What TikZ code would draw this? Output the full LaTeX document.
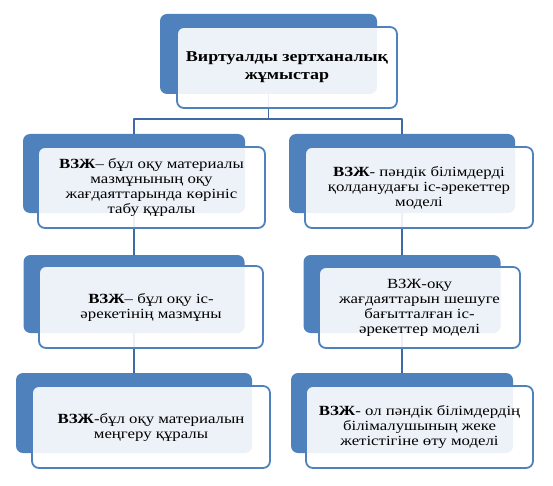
\documentclass[tikz,border=0pt]{standalone}
\usepackage{fontspec}
\setmainfont[FakeStretch=1.2]{Liberation Serif}
\definecolor{vzblue}{HTML}{4F81BD}
\definecolor{vzline}{HTML}{3E6BA6}
\begin{document}
\begin{tikzpicture}[x=1pt,y=-1pt,line cap=round,line join=round,
    back/.style={fill=vzblue,rounded corners=7pt,inner sep=0pt},
    front/.style={draw=vzblue,line width=1.8pt,fill=white,fill opacity=0.9,text opacity=1,
      rounded corners=7pt,align=center,inner sep=0pt,font=\fontsize{14}{15}\selectfont},
    link/.style={draw=vzline,line width=1.8pt}]
        \useasboundingbox (0,0) rectangle (553,486);
        \node[back,minimum width=217pt,minimum height=80pt] (topb) at (268.5,54) {};
        \node[back,minimum width=222pt,minimum height=79pt] (l1b) at (134,173.5) {};
        \node[back,minimum width=221pt,minimum height=78pt] (l2b) at (134,294) {};
        \node[back,minimum width=236pt,minimum height=80pt] (l3b) at (134,413) {};
        \node[back,minimum width=226pt,minimum height=79pt] (r1b) at (402,173.5) {};
        \node[back,minimum width=197pt,minimum height=78pt] (r2b) at (402,294) {};
        \node[back,minimum width=222pt,minimum height=80pt] (r3b) at (402,413) {};
        \draw[link] (topb.south) -- ++(0,25) -| (l1b.north);
        \draw[link] (topb.south) ++(0,25) -| (r1b.north);
        \draw[link] (l1b.south) -- (l2b.north);
        \draw[link] (l2b.south) -- (l3b.north);
        \draw[link] (r1b.south) -- (r2b.north);
        \draw[link] (r2b.south) -- (r3b.north);
        \node[front,minimum width=220pt,minimum height=81pt,font=\fontsize{15}{18}\selectfont\bfseries] (top) at (287,67.5)
            {Виртуалды зертханалық\\жұмыстар};
        \node[front,minimum width=227pt,minimum height=81pt] (l1) at (151.5,187.5)
            {\textbf{ВЗЖ}– бұл оқу  материалы\\мазмұнының оқу\\жағдаяттарында көрініс\\табу құралы};
        \node[front,minimum width=224pt,minimum height=82pt] (l2) at (151,307)
            {\textbf{ВЗЖ}– бұл оқу іс-\\әрекетінің мазмұны};
        \node[front,minimum width=238pt,minimum height=82pt] (l3) at (151,427)
            {\textbf{ВЗЖ}-бұл оқу материалын\\меңгеру құралы};
        \node[front,minimum width=228pt,minimum height=81pt] (r1) at (419,187.5)
            {\textbf{ВЗЖ}- пәндік білімдерді\\қолданудағы іс-әрекеттер\\моделі};
        \node[front,minimum width=201pt,minimum height=81pt] (r2) at (419.5,307.5)
            {ВЗЖ-оқу\\жағдаяттарын шешуге\\бағытталған іс-\\әрекеттер моделі};
        \node[front,minimum width=227pt,minimum height=82pt] (r3) at (419.5,427)
            {\textbf{ВЗЖ}- ол пәндік білімдердің\\білімалушының жеке\\жетістігіне өту моделі};
    \end{tikzpicture}
\end{document}
